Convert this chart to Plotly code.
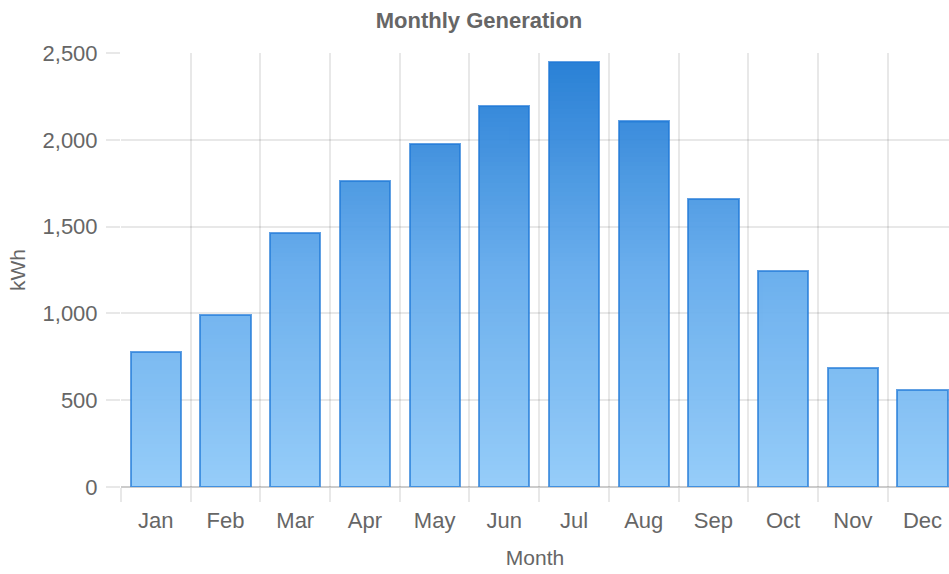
import plotly.graph_objects as go

months = ["Jan", "Feb", "Mar", "Apr", "May", "Jun", "Jul", "Aug", "Sep", "Oct", "Nov", "Dec"]
generation_kwh = [775, 990, 1465, 1765, 1975, 2195, 2450, 2110, 1660, 1245, 685, 560]
y_ticks = [0, 500, 1000, 1500, 2000, 2500]
y_tick_labels = ["0", "500", "1,000", "1,500", "2,000", "2,500"]

Y_MAX = 2500
STEP = 25
BAR_W = 0.72
FONT = "Liberation Sans, Arial, sans-serif"
GREY = "#666666"
GRID = "rgba(0,0,0,0.09)"

# gradient stops (value fraction -> colour), bottom light to top dark
stops = [(0.0, (144, 202, 249)), (0.5, (98, 170, 236)), (1.0, (25, 118, 210))]


def grad(t):
    t = max(0.0, min(1.0, t))
    for (t0, c0), (t1, c1) in zip(stops[:-1], stops[1:]):
        if t <= t1:
            f = (t - t0) / (t1 - t0)
            return "rgb(%d,%d,%d)" % tuple(round(a + (b - a) * f) for a, b in zip(c0, c1))
    return "rgb(%d,%d,%d)" % stops[-1][1]


xs = list(range(len(months)))
fig = go.Figure()

n_steps = Y_MAX // STEP
for k in range(n_steps):
    lo = k * STEP
    seg = [max(0, min(STEP, v - lo)) for v in generation_kwh]
    if not any(seg):
        continue
    fig.add_trace(go.Bar(
        x=xs, y=seg, width=BAR_W,
        marker=dict(color=grad((lo + STEP / 2) / Y_MAX), line=dict(width=0)),
        opacity=0.94, hoverinfo="skip", showlegend=False,
    ))

# outline trace
fig.add_trace(go.Bar(
    x=xs, y=generation_kwh, width=BAR_W, xaxis="x2",
    marker=dict(color="rgba(0,0,0,0)", line=dict(width=2, color="rgba(30,120,215,0.7)")),
    showlegend=False, hovertemplate="%{y}<extra></extra>",
))

fig.update_layout(
    width=949, height=574,
    margin=dict(l=121, r=0, t=53, b=87),
    barmode="stack",
    plot_bgcolor="white", paper_bgcolor="white",
    font=dict(family=FONT, color=GREY, size=22),
    title=dict(text="<b>Monthly Generation</b>", x=479 / 949, xanchor="center",
               y=1 - 20 / 574, yanchor="middle", font=dict(size=22, color=GREY)),
    xaxis=dict(
        range=[-0.5, 11.38], tickmode="array", tickvals=xs, ticktext=months,
        showgrid=False, zeroline=False, showline=False,
        ticks="outside", ticklen=14, tickcolor="rgba(0,0,0,0)",
        tickfont=dict(size=22, color=GREY),
        minor=dict(tickmode="array", tickvals=[i - 0.5 for i in range(13)],
                   showgrid=True, gridcolor=GRID, gridwidth=2,
                   ticks="outside", ticklen=14, tickcolor=GRID, tickwidth=2),
        title=dict(text="Month", font=dict(size=21, color=GREY), standoff=17),
    ),
    xaxis2=dict(overlaying="x", matches="x", visible=False),
    yaxis=dict(
        range=[0, Y_MAX], tickmode="array", tickvals=y_ticks, ticktext=y_tick_labels,
        showgrid=True, gridcolor=GRID, gridwidth=2,
        zeroline=True, zerolinecolor="rgba(0,0,0,0.2)", zerolinewidth=2,
        showline=False, ticks="outside", ticklen=14, tickcolor=GRID, tickwidth=2,
        ticklabelstandoff=4,
        tickfont=dict(size=22, color=GREY),
        title=dict(text="kWh", font=dict(size=21, color=GREY), standoff=11),
    ),
)

# remove the default page margin so the 949x574 figure fills the window exactly
fig.write_html(
    "out.html",
    config={"displayModeBar": False},
    post_script="document.body.style.margin='0';document.body.style.overflow='hidden';",
)
